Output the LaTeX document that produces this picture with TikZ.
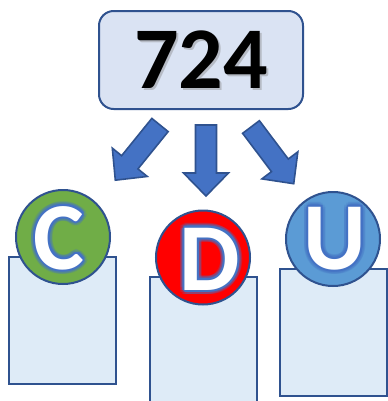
\documentclass[tikz,border=0pt]{standalone}
\usepackage{fontspec}
\setmainfont{Carlito}
\usetikzlibrary{positioning}

\definecolor{edgeblue}{HTML}{2F528F}
\definecolor{boxfill}{HTML}{DAE3F3}
\definecolor{rectfill}{HTML}{DEEBF7}
\definecolor{arrowblue}{HTML}{4472C4}
\definecolor{glowblue}{HTML}{4472C4}
\definecolor{cgreen}{HTML}{70AD47}
\definecolor{dred}{HTML}{FF0000}
\definecolor{ublue}{HTML}{5B9BD5}

\tikzset{every picture/.style={line width=1.5pt}}
\tikzset{
  numbox/.style={draw=edgeblue, fill=boxfill, rounded corners=11pt, minimum width=153pt, minimum height=73.5pt},
  numtext/.style={inner sep=0pt, font=\fontsize{66}{66}\selectfont\bfseries},
  digitbox/.style={draw=edgeblue, fill=rectfill, minimum width=80.25pt, minimum height=95.25pt},
  digitball/.style={circle, draw=edgeblue, minimum size=70.5pt},
  letter/.style={inner sep=0pt, font=\fontsize{72}{72}\selectfont\bfseries},
  blockarrow/.style={draw=edgeblue, fill=arrowblue, line width=1.2pt, line join=miter}
}

\begin{document}
\begin{tikzpicture}[x=0.75pt,y=0.75pt,yscale=-1,xscale=1]
\clip (0,0) rectangle (388,401);

% Number box
\node [numbox] (num) at (201,60) {};
\node [numtext, text=black!50, opacity=0.4] (numshadow) at (203,62) {724};
\node [numtext] (numtxt) at (201,60) {724};

% Block arrows
\begin{scope}[shift={(160,125)}, rotate=39]
\draw [blockarrow] (-10.5,0) -- (10.5,0) -- (10.5,48) -- (22.5,48) -- (0,71) -- (-22.5,48) -- (-10.5,48) -- cycle ;
\end{scope}
\begin{scope}[shift={(206,125)}]
\draw [blockarrow] (-10.5,0) -- (10.5,0) -- (10.5,48) -- (22.5,48) -- (0,71) -- (-22.5,48) -- (-10.5,48) -- cycle ;
\end{scope}
\begin{scope}[shift={(251,127)}, rotate=-37]
\draw [blockarrow] (-10.5,0) -- (10.5,0) -- (10.5,48) -- (22.5,48) -- (0,71) -- (-22.5,48) -- (-10.5,48) -- cycle ;
\end{scope}

% Place value boxes
\node [digitbox] (boxC) at (62.5,320.5) {};
\node [digitbox] (boxD) at (203.5,340.5) {};
\node [digitbox] (boxU) at (333.5,332.5) {};

% Circles
\node [digitball, fill=cgreen] (ballC) at (63,237) {};
\node [digitball, fill=dred] (ballD) at (203,257.5) {};
\node [digitball, fill=ublue] (ballU) at (333,239) {};

% Letters with a blue glow
\coordinate (lC) at (59,238);
\coordinate (lD) at (210,259);
\coordinate (lU) at (335,238.5);
\foreach \ltr/\spot in {C/lC, D/lD, U/lU} {
  \foreach \ang in {0,30,...,330}
    \node [letter, text=glowblue, opacity=0.25] at ([shift={(\ang:4.5)}]\spot) {\ltr};
  \foreach \ang in {0,45,...,315}
    \node [letter, text=glowblue] at ([shift={(\ang:2)}]\spot) {\ltr};
  \node [letter, text=white] at (\spot) {\ltr};
}

\end{tikzpicture}
\end{document}
